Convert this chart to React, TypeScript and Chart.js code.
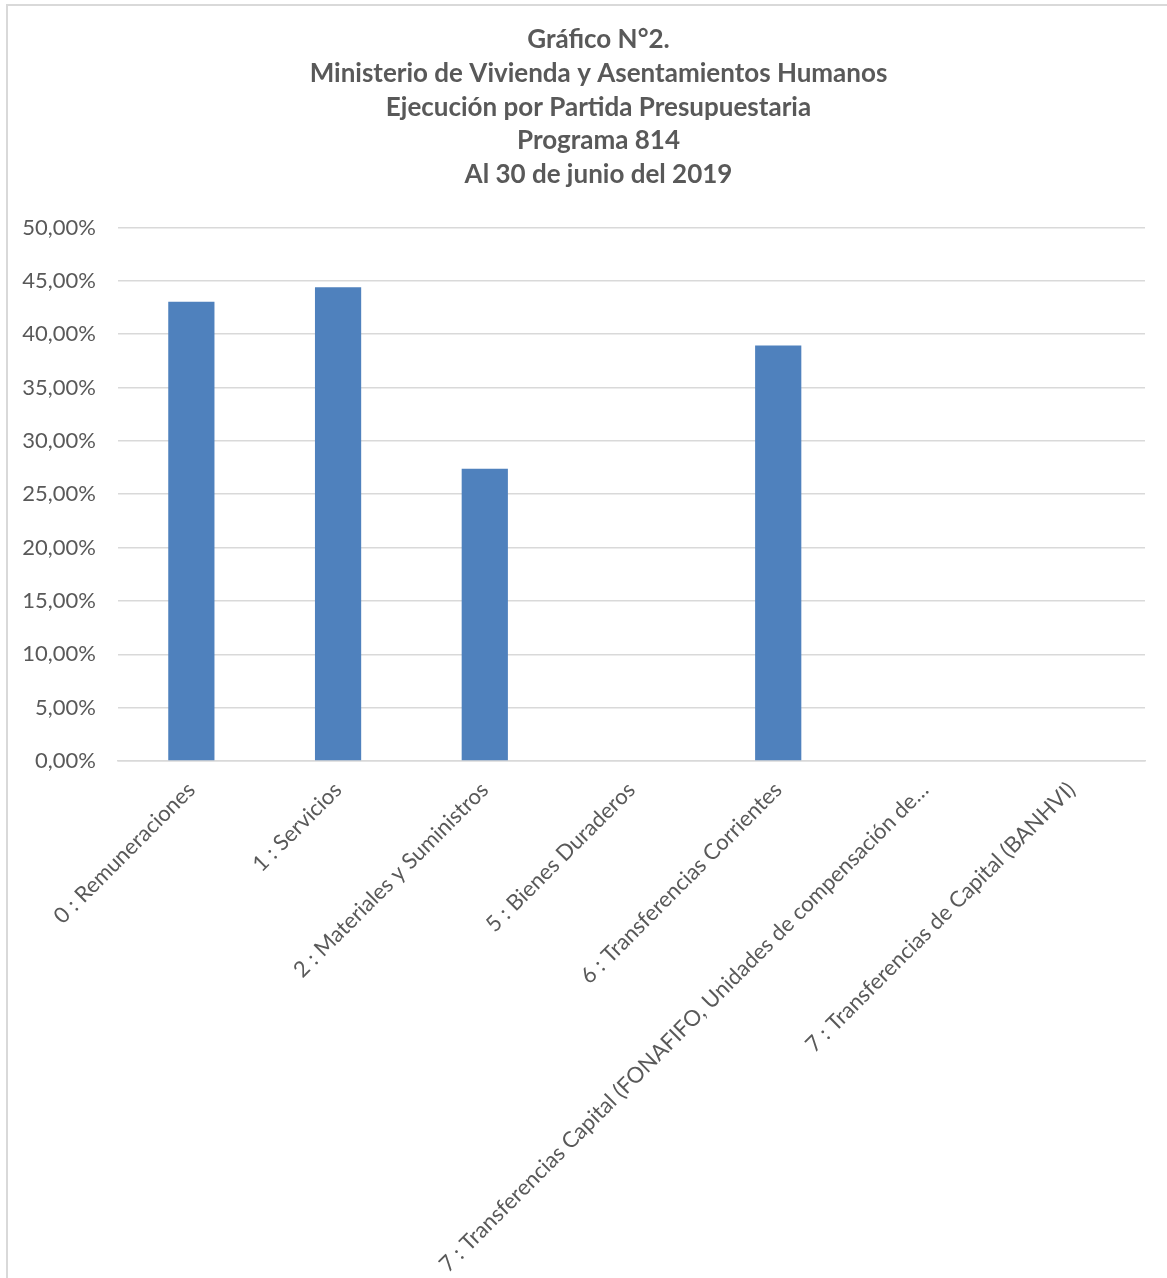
import React, { useEffect, useRef } from "react";
import { Chart, registerables } from "chart.js";

Chart.register(...registerables);

const titleLines = [
  "Gráfico N°2.",
  "Ministerio de Vivienda y Asentamientos Humanos",
  "Ejecución por Partida Presupuestaria",
  "Programa 814",
  "Al 30 de junio del 2019",
];

const categories = [
  "0 : Remuneraciones",
  "1 : Servicios",
  "2 : Materiales y Suministros",
  "5 : Bienes Duraderos",
  "6 : Transferencias Corrientes",
  "7 : Transferencias Capital (FONAFIFO, Unidades de compensación de…",
  "7 : Transferencias de Capital (BANHVI)",
];

// porcentaje de ejecución
const ejecucion = [43.05, 44.4, 27.4, 0, 38.95, 0, 0];

const yMin = 0;
const yMax = 50;
const yStep = 5;

const W = 1167;
const H = 1278;

// el título del original está centrado un poco más a la derecha
const shiftTitle = {
  id: "shiftTitle",
  afterLayout(chart: any) {
    const t = chart.titleBlock;
    if (t) {
      t.left += 26;
      t.right += 26;
    }
  },
};

export default function App() {
  const canvasRef = useRef<HTMLCanvasElement | null>(null);
  const chartRef = useRef<Chart | null>(null);

  useEffect(() => {
    if (!canvasRef.current) return;
    chartRef.current?.destroy();

    const gray = "#595959";
    const grid = "#d9d9d9";

    chartRef.current = new Chart(canvasRef.current, {
      type: "bar",
      data: {
        labels: categories,
        datasets: [
          {
            data: ejecucion,
            backgroundColor: "#4f81bd",
            borderWidth: 0,
            categoryPercentage: 1,
            barPercentage: 0.315,
          },
        ],
      },
      options: {
        responsive: false,
        animation: false,
        layout: { padding: { left: 0, right: 22, top: 0, bottom: 0 } },
        plugins: {
          legend: { display: false },
          tooltip: { enabled: false },
          title: {
            display: true,
            text: titleLines,
            color: gray,
            font: { family: "Lato", size: 26, weight: "bold", lineHeight: 1.296 },
            padding: { top: 23, bottom: 36 },
          },
        },
        scales: {
          x: {
            grid: { display: false, drawTicks: false },
            border: { display: true, color: grid, width: 1.5 },
            ticks: {
              color: gray,
              font: { family: "Lato", size: 22 },
              maxRotation: 45,
              minRotation: 45,
              autoSkip: false,
              padding: 16,
            },
            afterFit: (scale: any) => {
              scale.height = H - 761;
            },
          },
          y: {
            min: yMin,
            max: yMax,
            grid: { color: grid, lineWidth: 1.5, drawTicks: false },
            border: { display: false },
            ticks: {
              stepSize: yStep,
              color: gray,
              font: { family: "Lato", size: 22 },
              padding: 22,
              callback: (v: any) => Number(v).toFixed(2).replace(".", ",") + "%",
            },
            afterFit: (scale: any) => {
              scale.width = 118;
            },
          },
        },
      },
      plugins: [shiftTitle],
    });

    return () => {
      chartRef.current?.destroy();
      chartRef.current = null;
    };
  }, []);

  return (
    <div style={{ position: "absolute", left: 0, top: 0, width: W, height: H, background: "#fff" }}>
      <div
        style={{
          position: "absolute",
          left: 6,
          top: 4,
          width: W - 6,
          height: H - 4,
          borderTop: "2px solid #d9d9d9",
          borderLeft: "2px solid #d9d9d9",
          boxSizing: "border-box",
        }}
      />
      <canvas ref={canvasRef} width={W} height={H} style={{ position: "absolute", left: 0, top: 0 }} />
    </div>
  );
}
